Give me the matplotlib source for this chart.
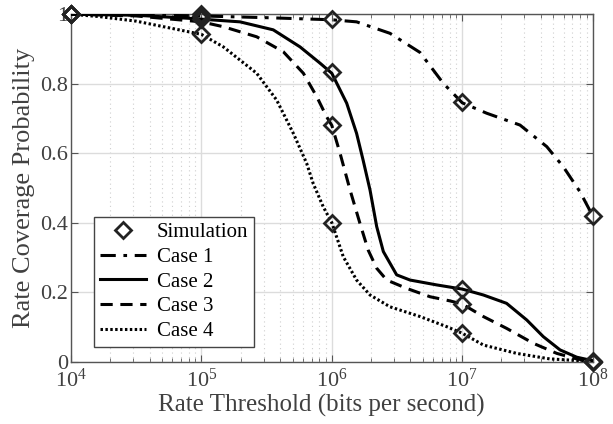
import numpy as np
import matplotlib
matplotlib.use("Agg")
import matplotlib.pyplot as plt
from matplotlib.ticker import LogLocator, NullFormatter

plt.rcParams['font.family'] = ['Liberation Serif', 'DejaVu Serif']
plt.rcParams['mathtext.fontset'] = 'custom'
plt.rcParams['mathtext.rm'] = 'Liberation Serif'
plt.rcParams['mathtext.it'] = 'Liberation Serif:italic'

# Analytical curves (log10 rate threshold, coverage probability)
case1_logx = [4.0, 4.5, 5.0, 5.5, 6.0, 6.19, 6.446, 6.676, 6.855, 7.0, 7.188, 7.443,
              7.648, 7.775, 7.903, 8.0]
case1_y    = [1.0, 0.998, 0.995, 0.99, 0.984, 0.978, 0.945, 0.89, 0.801, 0.745, 0.715, 0.681,
              0.619, 0.561, 0.489, 0.42]

case2_logx = [4.0, 4.5, 4.913, 5.296, 5.551, 5.756, 5.91, 6.0, 6.114, 6.19, 6.24, 6.293,
              6.344, 6.395, 6.497, 6.6, 6.804, 7.0, 7.162, 7.34, 7.495, 7.622, 7.75,
              7.878, 8.0]
case2_y    = [1.0, 0.997, 0.988, 0.978, 0.955, 0.906, 0.859, 0.83, 0.744, 0.657, 0.58, 0.494,
              0.389, 0.317, 0.25, 0.235, 0.221, 0.209, 0.192, 0.168, 0.12, 0.072, 0.034,
              0.013, 0.003]

case3_logx = [4.0, 4.5, 5.0, 5.168, 5.424, 5.628, 5.782, 5.884, 5.96, 6.0, 6.063, 6.14,
              6.215, 6.279, 6.344, 6.421, 6.574, 6.753, 6.906, 7.0, 7.162, 7.34, 7.545,
              7.725, 7.878, 8.0]
case3_y    = [1.0, 0.995, 0.978, 0.964, 0.935, 0.892, 0.83, 0.763, 0.705, 0.68, 0.6, 0.494,
              0.399, 0.321, 0.269, 0.235, 0.211, 0.187, 0.175, 0.166, 0.13, 0.096, 0.053,
              0.024, 0.008, 0.001]

case4_logx = [4.0, 4.22, 4.5, 5.0, 5.168, 5.424, 5.577, 5.705, 5.807, 5.857, 5.934, 6.0,
              6.088, 6.19, 6.293, 6.446, 6.676, 6.88, 7.0, 7.162, 7.417, 7.672, 8.0]
case4_y    = [1.0, 0.993, 0.98, 0.942, 0.906, 0.83, 0.753, 0.657, 0.571, 0.513, 0.446, 0.40,
              0.302, 0.235, 0.192, 0.158, 0.13, 0.101, 0.082, 0.048, 0.024, 0.008, 0.001]

# Simulation points
sim_x = [1e4, 1e5, 1e6, 1e7, 1e8]
sim_case1 = [1.0, 1.0, 0.985, 0.746, 0.42]
sim_case2 = [1.0, 0.995, 0.835, 0.209, 0.003]
sim_case3 = [1.0, 0.985, 0.68, 0.166, 0.0]
sim_case4 = [1.0, 0.942, 0.40, 0.082, 0.0]

labels = ['Case 1', 'Case 2', 'Case 3', 'Case 4']

fig = plt.figure(figsize=(6.13, 4.24), dpi=100)
ax = fig.add_axes([0.1158, 0.1469, 0.851, 0.8196])

txtc = '#404040'
lc = 'black'
lw = 2.2

ax.plot(np.power(10.0, case1_logx), case1_y, color=lc, lw=lw, ls=(0, (5, 2.5, 1.2, 2.5)), label=labels[0], zorder=3)
ax.plot(np.power(10.0, case2_logx), case2_y, color=lc, lw=lw, ls='-', label=labels[1], zorder=3)
ax.plot(np.power(10.0, case3_logx), case3_y, color=lc, lw=lw, ls=(0, (4, 2.5)), label=labels[2], zorder=3)
ax.plot(np.power(10.0, case4_logx), case4_y, color=lc, lw=lw, ls=(0, (0.8, 0.8)), label=labels[3], zorder=3)

mk = dict(ls='none', marker='D', ms=8.5, mfc='none', mec='#222222', mew=2.0, zorder=4, clip_on=False)
h_sim, = ax.plot(sim_x, sim_case1, label='Simulation', **mk)
for s in [sim_case2, sim_case3, sim_case4]:
    ax.plot(sim_x, s, **mk)

ax.set_xscale('log')
ax.set_xlim(1e4, 1e8)
ax.set_ylim(0, 1)
ax.set_xticks([1e4, 1e5, 1e6, 1e7, 1e8])
ax.set_xticklabels([r'$10^{4}$', r'$10^{5}$', r'$10^{6}$', r'$10^{7}$', r'$10^{8}$'])
ax.xaxis.set_minor_locator(LogLocator(base=10, subs=np.arange(2, 10), numticks=20))
ax.xaxis.set_minor_formatter(NullFormatter())
ax.set_yticks([0, 0.2, 0.4, 0.6, 0.8, 1.0])
ax.set_yticklabels(['0', '0.2', '0.4', '0.6', '0.8', '1'])

ax.grid(True, which='major', color='#dcdcdc', lw=1.0, ls='-', zorder=0)
ax.grid(True, which='minor', axis='x', color='#cfcfcf', lw=0.8, ls=(0, (1, 3)), zorder=0)
ax.set_axisbelow(True)

ax.tick_params(which='both', direction='in', top=True, right=True, colors='#555555',
               labelcolor=txtc, labelsize=16)
ax.tick_params(which='major', length=5)
ax.tick_params(which='minor', length=3)
ax.tick_params(axis='x', pad=5)
ax.tick_params(axis='y', pad=2)
for sp in ax.spines.values():
    sp.set_color('#555555')
    sp.set_linewidth(1.0)

ax.set_xlabel('Rate Threshold (bits per second)', fontsize=18, color=txtc, labelpad=0)
ax.xaxis.set_label_coords(0.48, -0.093)
ax.set_ylabel('Rate Coverage Probability', fontsize=19, color=txtc, labelpad=4)

handles, labs = ax.get_legend_handles_labels()
order = [labs.index('Simulation')] + [labs.index(l) for l in labels]
leg = ax.legend([handles[i] for i in order], [labs[i] for i in order],
                loc='lower left', bbox_to_anchor=(0.044, 0.042), fontsize=15,
                frameon=True, fancybox=False, edgecolor='#444444', framealpha=1,
                handlelength=2.2, handletextpad=0.55, labelspacing=0.25, borderpad=0.28,
                borderaxespad=0.0)
leg.get_frame().set_linewidth(1.0)
for t in leg.get_texts():
    t.set_color('black')

fig.savefig('out.png', dpi=100)
